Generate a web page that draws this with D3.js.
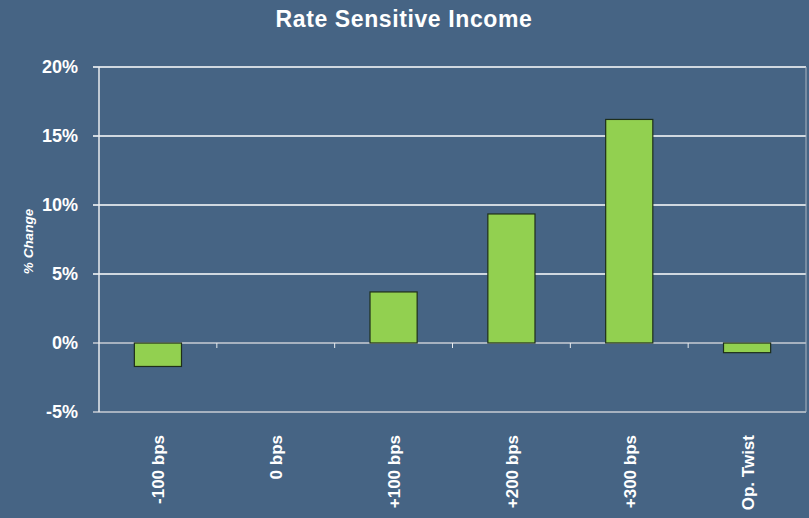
<!DOCTYPE html>
<html>
<head>
<meta charset="utf-8">
<script src="https://cdn.jsdelivr.net/npm/d3@7"></script>
<style>
  html,body{margin:0;padding:0;background:#466484;}
  svg{display:block;font-family:Arial,"Liberation Sans",sans-serif;}
</style>
</head>
<body>
<div id="chart"></div>
<script>
"use strict";
// Rate Sensitive Income — столбики, % изменения по сценариям ставок
const categories = ["-100 bps","0 bps","+100 bps","+200 bps","+300 bps","Op. Twist"];
const values = [-1.7, 0, 3.7, 9.35, 16.2, -0.7];
const yTicks = [-5, 0, 5, 10, 15, 20];

const W = 809, H = 518;
const M = {left:99, right:3, top:67, bottom:106};
const svg = d3.select("#chart").append("svg").attr("width",W).attr("height",H);
svg.append("rect").attr("width",W).attr("height",H).attr("fill","#466484");

const x = d3.scaleBand().domain(categories).range([M.left, W-M.right]).paddingInner(0.6).paddingOuter(0.3);
const y = d3.scaleLinear().domain([-5,20]).range([H-M.bottom, M.top]);

// сетка + тики слева
const grid = svg.append("g");
yTicks.forEach((t)=>{
  const c = (t===0 || t===-5) ? "#c8cdd4" : "#ffffff";
  grid.append("line").attr("x1",M.left-6).attr("x2",W-M.right).attr("y1",y(t)).attr("y2",y(t))
    .attr("stroke",c).attr("stroke-width",1.5);
});
// ось Y и правая граница
svg.append("line").attr("x1",M.left).attr("x2",M.left).attr("y1",y(20)).attr("y2",y(-5)).attr("stroke","#e8ebef").attr("stroke-width",1.5);
svg.append("line").attr("x1",W-M.right).attr("x2",W-M.right).attr("y1",y(20)).attr("y2",y(-5)).attr("stroke","#aab4c0").attr("stroke-width",1);

// тики категорий на нулевой линии
const bounds = d3.range(1, categories.length).map((i)=> M.left + i*(W-M.right-M.left)/categories.length);
svg.append("g").selectAll("line").data(bounds).join("line")
  .attr("x1",(d)=>d).attr("x2",(d)=>d).attr("y1",y(0)).attr("y2",y(0)+5)
  .attr("stroke","#e8ebef").attr("stroke-width",1);

// подписи Y
svg.append("g").selectAll("text").data(yTicks).join("text")
  .attr("x",78).attr("y",(d)=>y(d)).attr("dy","0.36em").attr("text-anchor","end")
  .attr("fill","#fff").attr("font-size",18).attr("font-weight",700).text((d)=>d+"%");

// столбики
svg.append("g").selectAll("rect").data(values).join("rect")
  .attr("x",(d,i)=>x(categories[i])).attr("width",x.bandwidth())
  .attr("y",(d)=>y(Math.max(0,d))).attr("height",(d)=>Math.abs(y(d)-y(0)))
  .attr("fill","#92d050").attr("stroke","#1e2e1a").attr("stroke-width",1.2);

// подписи X, повернутые
svg.append("g").selectAll("text").data(categories).join("text")
  .attr("transform",(d)=>`translate(${x(d)+x.bandwidth()/2+6.5},${y(-5)+23}) rotate(-90)`)
  .attr("text-anchor","end").attr("fill","#fff").attr("font-size",17).attr("font-weight",700).text((d)=>d);

// заголовок и подпись оси
svg.append("text").attr("x",404).attr("y",27).attr("text-anchor","middle").attr("fill","#fff")
  .attr("font-size",23).attr("font-weight",700).attr("letter-spacing",0.6).text("Rate Sensitive Income");
svg.append("text").attr("transform",`translate(33,${(y(20)+y(-5))/2+2}) rotate(-90)`).attr("text-anchor","middle")
  .attr("fill","#fff").attr("font-size",13.5).attr("font-weight",700).attr("font-style","italic").text("% Change");
</script>
</body>
</html>
